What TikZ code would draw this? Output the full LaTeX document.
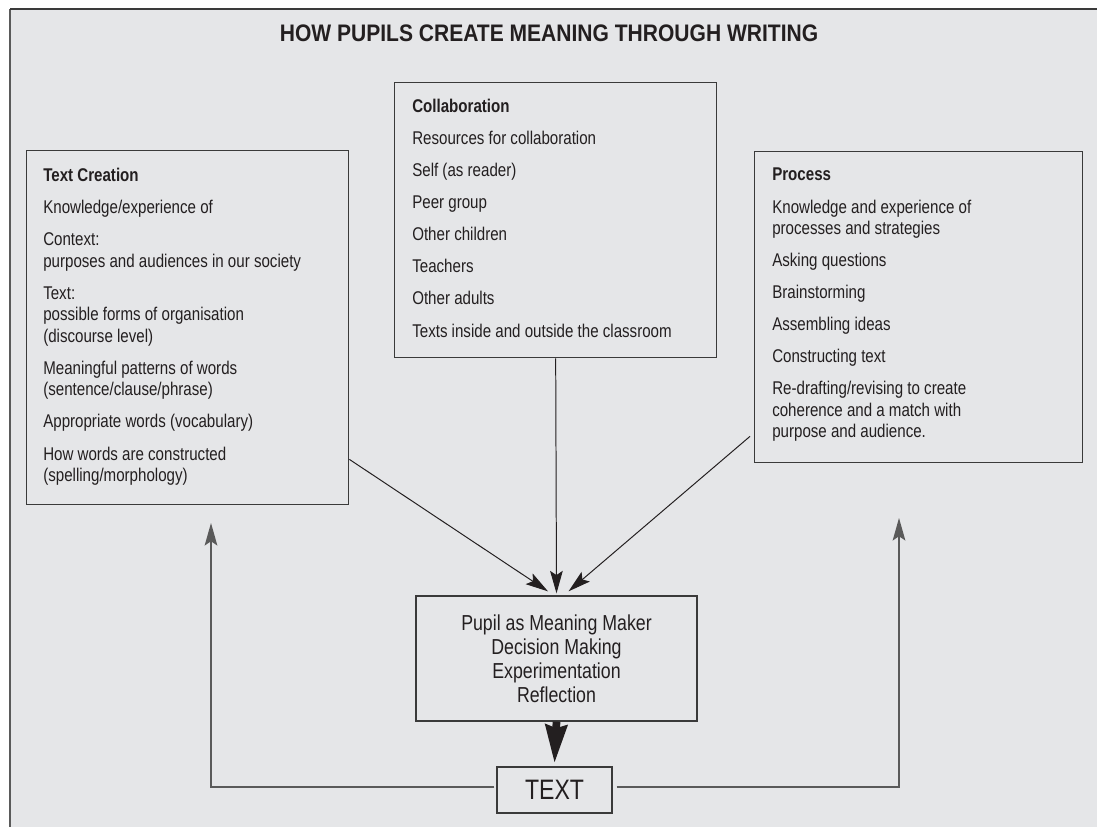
\documentclass[tikz,border=0pt]{standalone}
\usepackage{fontspec}
\setmainfont{Liberation Sans}[FakeStretch=0.82]
\newfontfamily\headfont{Liberation Sans}[FakeStretch=0.88]
\usepackage{tikz}
\usetikzlibrary{calc, arrows.meta, positioning}
\definecolor{paper}{HTML}{E5E6E8}
\definecolor{ink}{HTML}{231F20}
\definecolor{rule}{HTML}{3A3A3A}
\definecolor{soft}{HTML}{5A5A5A}

\begin{document}
\begin{tikzpicture}[x=0.025cm, y=-0.025cm, font=\fontsize{13.1}{15.3}\selectfont, text=ink,
    panel/.style={draw=rule, line width=0.9pt, inner sep=0pt, anchor=north west},
    items/.style={anchor=north west, align=left, inner sep=0pt},
    feed/.style={-{Stealth[length=16pt, width=9pt, inset=3pt]}, ink, line width=0.7pt}]
  % frame
  \useasboundingbox (0,0) rectangle (1097,827);
  \fill[paper] (10,9) rectangle (1097,827);
  \draw[soft, line width=1.4pt] (10,827) -- (10,9);
  \draw[rule, line width=1.2pt] (10,9) -- (1097,9);
  % title
  \node[anchor=base, font=\headfont\bfseries\fontsize{17}{20}\selectfont] (title) at (549,42)
    {HOW PUPILS CREATE MEANING THROUGH WRITING};
  % the three panels
  \node[panel, minimum width=8.05cm, minimum height=8.85cm] (create) at (26,150) {};
  \node[items] (createtxt) at (43,168) {\textbf{Text Creation}\\[7.5pt]
    Knowledge/experience of\\[7.5pt]
    Context:\\purposes and audiences in our society\\[7.5pt]
    Text:\\possible forms of organisation\\(discourse level)\\[7.5pt]
    Meaningful patterns of words\\(sentence/clause/phrase)\\[7.5pt]
    Appropriate words (vocabulary)\\[7.5pt]
    How words are constructed\\(spelling/morphology)};
  \node[panel, minimum width=8.05cm, minimum height=6.875cm] (collab) at (394,82) {};
  \node[items] (collabtxt) at (412,99) {\textbf{Collaboration}\\[7.5pt]
    Resources for collaboration\\[7.5pt]
    Self (as reader)\\[7.5pt]
    Peer group\\[7.5pt]
    Other children\\[7.5pt]
    Teachers\\[7.5pt]
    Other adults\\[7.5pt]
    Texts inside and outside the classroom};
  \node[panel, minimum width=8.2cm, minimum height=7.775cm] (process) at (754,151) {};
  \node[items] (processtxt) at (772,168) {\textbf{Process}\\[7.5pt]
    Knowledge and experience of\\processes and strategies\\[7.5pt]
    Asking questions\\[7.5pt]
    Brainstorming\\[7.5pt]
    Assembling ideas\\[7.5pt]
    Constructing text\\[7.5pt]
    Re-drafting/revising to create\\coherence and a match with\\purpose and audience.};
  % centre and output
  \node[panel, anchor=center, align=center, minimum width=7.025cm, minimum height=3.125cm,
    font=\fontsize{15.4}{17}\selectfont] (pupil) at (556.5,658.5)
    {Pupil as Meaning Maker\\Decision Making\\Experimentation\\Reflection};
  \node[panel, anchor=center, minimum width=2.875cm, minimum height=1.15cm,
    font=\fontsize{20}{22}\selectfont] (textbox) at (554.5,790) {TEXT};
  % arrows in
  \draw[feed] ($(create.south east)+(0,-46)$) -- ($(pupil.north)+(-8.5,-4)$);
  \draw[feed] (collab.south) -- ($(pupil.north)+(0,-2)$);
  \draw[feed] ($(process.south west)+(-4,-27)$) -- ($(pupil.north)+(12,-4)$);
  \draw[-{Stealth[length=27pt, width=15pt, inset=2pt]}, ink, line width=5.5pt]
    (pupil.south) -- ($(textbox.north)+(0,-3)$);
  % feedback
  \coordinate (backleft) at (211,523);
  \coordinate (backright) at (899,518);
  \draw[feed, soft, line width=1pt] ($(textbox.west)+(-2,-3)$) -| (backleft);
  \draw[feed, soft, line width=1pt] ($(textbox.east)+(4,-3)$) -| (backright);
\end{tikzpicture}
\end{document}
